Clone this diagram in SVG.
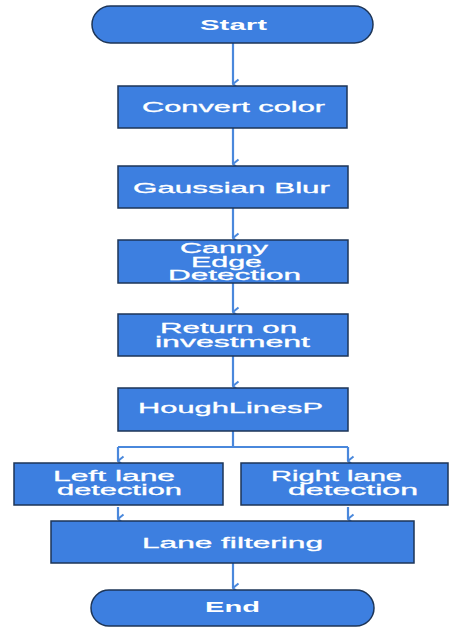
<svg xmlns="http://www.w3.org/2000/svg" width="449" height="628" viewBox="0 0 449 628">
  <defs>
    <marker id="arrow" viewBox="0 0 12 10" refX="6" refY="9" markerWidth="12" markerHeight="10" markerUnits="userSpaceOnUse" orient="auto-start-reverse">
      <path d="M1.5,3.5 L6,9 L10.5,3.5" fill="none" stroke="#4a88dc" stroke-width="2"/>
    </marker>
  </defs>
  <style>
    .box { fill: #3d7fe0; stroke: #1d3557; stroke-width: 1.5; }
    .lbl { fill: #ffffff; stroke: #ffffff; stroke-width: 0.3; font-family: "Liberation Sans", Arial, sans-serif; font-size: 15px; text-anchor: middle; }
    .term { font-weight: bold; stroke-width: 0; }
    .edge { fill: none; stroke: #4a88dc; stroke-width: 2.2; }
  </style>
  <rect width="449" height="628" fill="#ffffff"/>

  <g id="connectors">
    <path class="edge" d="M233,43 V84" marker-end="url(#arrow)"/>
    <path class="edge" d="M233,128 V164" marker-end="url(#arrow)"/>
    <path class="edge" d="M233,208 V238" marker-end="url(#arrow)"/>
    <path class="edge" d="M233,283 V312" marker-end="url(#arrow)"/>
    <path class="edge" d="M233,356 V386" marker-end="url(#arrow)"/>
    <path class="edge" d="M233,431 V447"/>
    <path class="edge" d="M118,447 H348"/>
    <path class="edge" d="M118,447 V461" marker-end="url(#arrow)"/>
    <path class="edge" d="M348,447 V461" marker-end="url(#arrow)"/>
    <path class="edge" d="M118,507 V519" marker-end="url(#arrow)"/>
    <path class="edge" d="M348,507 V519" marker-end="url(#arrow)"/>
    <path class="edge" d="M233,563 V588" marker-end="url(#arrow)"/>
  </g>

  <g id="start">
    <rect class="box" x="92" y="6" width="281" height="37" rx="18.5" ry="18.5"/>
    <text class="lbl term" x="233.5" y="30" textLength="67" lengthAdjust="spacingAndGlyphs">Start</text>
  </g>

  <g id="convert-color">
    <rect class="box" x="118" y="86" width="229" height="42"/>
    <text class="lbl" x="233.5" y="112" textLength="183" lengthAdjust="spacingAndGlyphs">Convert color</text>
  </g>

  <g id="gaussian-blur">
    <rect class="box" x="118" y="166" width="230" height="42"/>
    <text class="lbl" x="231.5" y="192.5" textLength="197" lengthAdjust="spacingAndGlyphs">Gaussian Blur</text>
  </g>

  <g id="canny">
    <rect class="box" x="118" y="240" width="230" height="43"/>
    <text class="lbl" x="224" y="253" textLength="88" lengthAdjust="spacingAndGlyphs">Canny</text>
    <text class="lbl" x="226.5" y="266.5" textLength="71" lengthAdjust="spacingAndGlyphs">Edge</text>
    <text class="lbl" x="234.5" y="280" textLength="133" lengthAdjust="spacingAndGlyphs">Detection</text>
  </g>

  <g id="return-on-investment">
    <rect class="box" x="118" y="314" width="230" height="42"/>
    <text class="lbl" x="228.5" y="333" textLength="137" lengthAdjust="spacingAndGlyphs">Return on</text>
    <text class="lbl" x="232.5" y="347" textLength="155" lengthAdjust="spacingAndGlyphs">investment</text>
  </g>

  <g id="houghlinesp">
    <rect class="box" x="118" y="388" width="230" height="43"/>
    <text class="lbl" x="230.5" y="413" textLength="185" lengthAdjust="spacingAndGlyphs">HoughLinesP</text>
  </g>

  <g id="left-lane">
    <rect class="box" x="14" y="463" width="209" height="42"/>
    <text class="lbl" x="114" y="481" textLength="122" lengthAdjust="spacingAndGlyphs">Left lane</text>
    <text class="lbl" x="119.5" y="495" textLength="125" lengthAdjust="spacingAndGlyphs">detection</text>
  </g>

  <g id="right-lane">
    <rect class="box" x="241" y="463" width="207" height="42"/>
    <text class="lbl" x="336.5" y="481" textLength="131" lengthAdjust="spacingAndGlyphs">Right lane</text>
    <text class="lbl" x="353" y="495" textLength="130" lengthAdjust="spacingAndGlyphs">detection</text>
  </g>

  <g id="lane-filtering">
    <rect class="box" x="51" y="521" width="363" height="42"/>
    <text class="lbl" x="232.5" y="548" textLength="181" lengthAdjust="spacingAndGlyphs">Lane filtering</text>
  </g>

  <g id="end">
    <rect class="box" x="91" y="590" width="283" height="36" rx="18" ry="18"/>
    <text class="lbl term" x="232.5" y="612" textLength="55" lengthAdjust="spacingAndGlyphs">End</text>
  </g>
</svg>
